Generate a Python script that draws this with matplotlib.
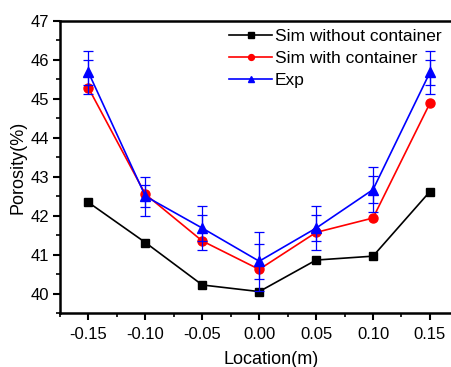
import matplotlib
matplotlib.use("Agg")
import matplotlib.pyplot as plt
from matplotlib.ticker import MultipleLocator, FormatStrFormatter

plt.rcParams['font.family'] = ['Liberation Sans', 'DejaVu Sans']

location = [-0.15, -0.10, -0.05, 0.00, 0.05, 0.10, 0.15]
sim_without = [42.34, 41.31, 40.22, 40.05, 40.86, 40.96, 42.62]
sim_with = [45.28, 42.55, 41.35, 40.62, 41.57, 41.94, 44.89]
exp_mean = [45.68, 42.50, 41.68, 40.83, 41.68, 42.67, 45.68]
exp_err_outer = [0.56, 0.50, 0.57, 0.76, 0.57, 0.58, 0.56]
exp_err_inner = [0.32, 0.28, 0.34, 0.45, 0.33, 0.34, 0.33]

fig = plt.figure(figsize=(4.51, 3.67), dpi=100)
ax = fig.add_axes([60 / 451, 54 / 367, 398.4 / 451, 292 / 367])

ax.plot(location, sim_without, color='black', lw=1.2, marker='s', ms=6,
        label='Sim without container', zorder=3)
ax.plot(location, sim_with, color='red', lw=1.2, marker='o', ms=6.5,
        label='Sim with container', zorder=4)
ax.plot(location, exp_mean, color='blue', lw=1.2, marker='^', ms=7.5,
        label='Exp', zorder=5)
ax.errorbar(location, exp_mean, yerr=exp_err_outer, fmt='none', ecolor='blue',
            elinewidth=0.9, capsize=3.5, capthick=0.9, zorder=6)
ax.errorbar(location, exp_mean, yerr=exp_err_inner, fmt='none', ecolor='blue',
            elinewidth=0.9, capsize=3.5, capthick=0.9, zorder=6)

ax.set_xlim(-0.175, 0.175)
ax.set_ylim(39.5, 47)
ax.xaxis.set_major_locator(MultipleLocator(0.05))
ax.xaxis.set_minor_locator(MultipleLocator(0.025))
ax.xaxis.set_major_formatter(FormatStrFormatter('%.2f'))
ax.yaxis.set_major_locator(MultipleLocator(1))
ax.yaxis.set_minor_locator(MultipleLocator(0.5))

for s in ax.spines.values():
    s.set_linewidth(1.8)
ax.tick_params(which='major', direction='out', length=5, width=1.5,
               labelsize=12)
ax.tick_params(axis='x', which='major', pad=5)
ax.tick_params(axis='y', which='major', pad=3)
ax.tick_params(which='minor', direction='out', length=3, width=1.2)
ax.tick_params(top=False, right=False, which='both')

ax.set_xlabel('Location(m)', fontsize=13)
ax.set_ylabel('Porosity(%)', fontsize=13)
ax.xaxis.set_label_coords(211 / 398.4, -38 / 292, transform=ax.transAxes)
ax.yaxis.set_label_coords(-33 / 398.4, 0.5, transform=ax.transAxes)

leg = ax.legend(loc='upper left', bbox_to_anchor=(229 / 451, 1 - 29 / 367),
                bbox_transform=fig.transFigure, frameon=False, fontsize=12.5,
                handlelength=2.5, handletextpad=0.15, labelspacing=0.38,
                markerscale=0.65, borderaxespad=0, borderpad=0)

fig.savefig('out.png', dpi=100)
